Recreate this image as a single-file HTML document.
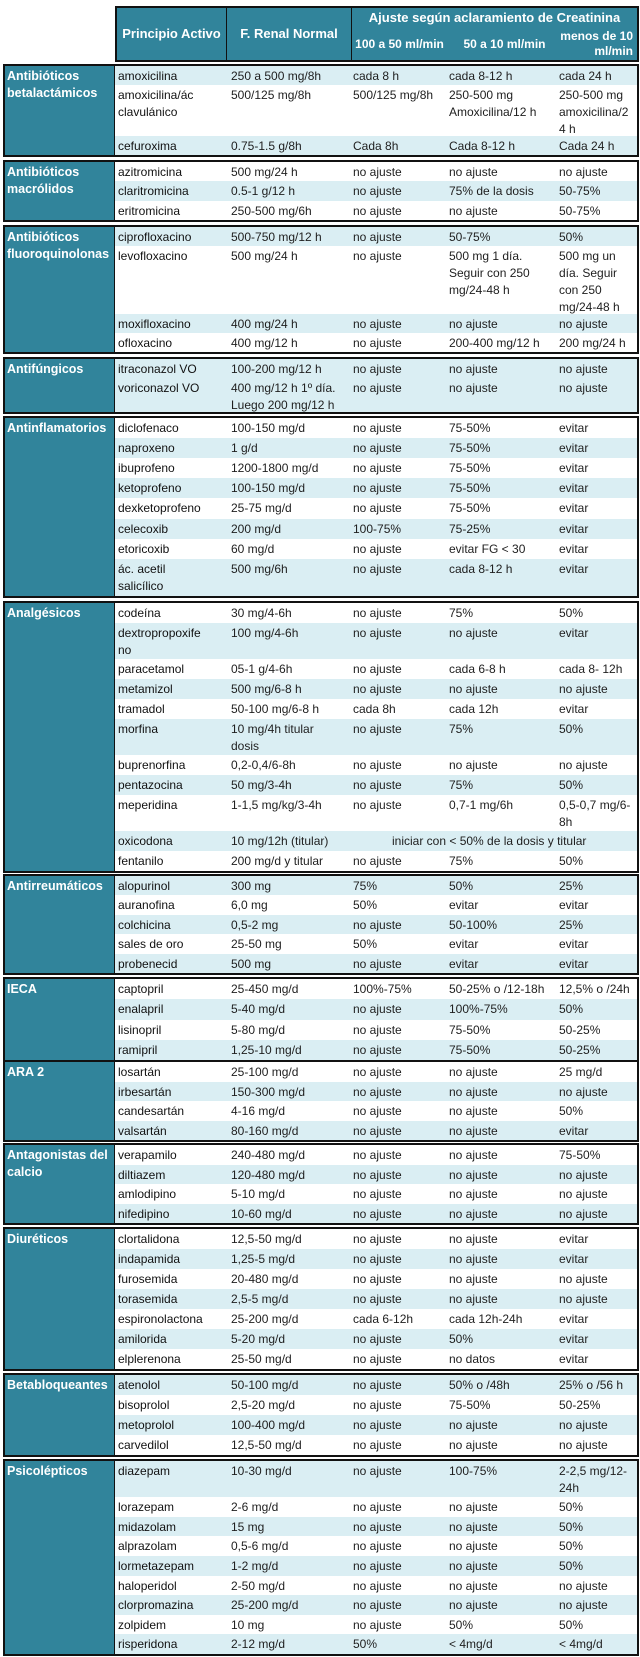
<!DOCTYPE html>
<html><head><meta charset="utf-8">
<style>
*{box-sizing:border-box;margin:0;padding:0}
body{width:640px;height:1657px;background:#fff;position:relative;font-family:"Liberation Sans",sans-serif;overflow:hidden}
.hdr{position:absolute;left:115px;top:6px;width:524px;height:56px;background:#31849b;border:2px solid #111;color:#fff;font-weight:bold}
.hdr .vl{position:absolute;top:0;bottom:0;width:1px;background:#111}
.hdr span{position:absolute;white-space:nowrap;text-align:center}
.g{position:absolute;left:3px;width:636px;border:2px solid #111;background:#fff}
.cat{position:absolute;left:0;top:0;bottom:0;width:110px;background:#31849b;border-right:1px solid #111;color:#fff;font-weight:bold;font-size:12.5px;line-height:17px;padding:2px 0 0 2px;white-space:nowrap}
.rows{position:absolute;left:110px;right:0;top:0;bottom:0;display:flex;flex-direction:column}
.r{position:relative;font-size:12px;line-height:17px;color:#1e1e1e}
.L{background:#daeef3}
.r span{position:absolute;top:2px;white-space:nowrap}
.a{left:3px;color:#111}.b{left:116px}.c{left:238px}.d{left:334px}.e{left:444px}
</style></head><body>
<div class="hdr">
<div class="vl" style="left:109px"></div><div class="vl" style="left:234px"></div>
<span style="left:0;width:109px;top:18px;font-size:13px">Principio Activo</span>
<span style="left:110px;width:124px;top:18px;font-size:13px">F. Renal Normal</span>
<span style="left:235px;width:285px;top:2px;font-size:13px">Ajuste según aclaramiento de Creatinina</span>
<span style="left:235px;width:95px;top:29px;font-size:12px">100 a 50 ml/min</span>
<span style="left:340px;width:95px;top:29px;font-size:12px">50 a 10 ml/min</span>
<span style="left:436px;width:80px;top:21px;font-size:12px;text-align:right;line-height:15px">menos de 10<br>ml/min</span>
</div>

<div class="g" style="top:64px;height:93px"><div class="cat">Antibióticos<br>betalactámicos</div><div class="rows">
<div class="r L" style="flex:20"><span class="a">amoxicilina</span><span class="b">250 a 500 mg/8h</span><span class="c">cada 8 h</span><span class="d">cada 8-12 h</span><span class="e">cada 24 h</span></div>
<div class="r" style="flex:54"><span class="a">amoxicilina/ác<br>clavulánico</span><span class="b">500/125 mg/8h</span><span class="c">500/125 mg/8h</span><span class="d">250-500 mg<br>Amoxicilina/12 h</span><span class="e">250-500 mg<br>amoxicilina/2<br>4 h</span></div>
<div class="r L" style="flex:20"><span class="a">cefuroxima</span><span class="b">0.75-1.5 g/8h</span><span class="c">Cada 8h</span><span class="d">Cada 8-12 h</span><span class="e">Cada 24 h</span></div>
</div></div>

<div class="g" style="top:160px;height:62px"><div class="cat">Antibióticos<br>macrólidos</div><div class="rows">
<div class="r" style="flex:20"><span class="a">azitromicina</span><span class="b">500 mg/24 h</span><span class="c">no ajuste</span><span class="d">no ajuste</span><span class="e">no ajuste</span></div>
<div class="r L" style="flex:20"><span class="a">claritromicina</span><span class="b">0.5-1 g/12 h</span><span class="c">no ajuste</span><span class="d">75% de la dosis</span><span class="e">50-75%</span></div>
<div class="r" style="flex:20"><span class="a">eritromicina</span><span class="b">250-500 mg/6h</span><span class="c">no ajuste</span><span class="d">no ajuste</span><span class="e">50-75%</span></div>
</div></div>

<div class="g" style="top:225px;height:129px"><div class="cat">Antibióticos<br>fluoroquinolonas</div><div class="rows">
<div class="r L" style="flex:20"><span class="a">ciprofloxacino</span><span class="b">500-750 mg/12 h</span><span class="c">no ajuste</span><span class="d">50-75%</span><span class="e">50%</span></div>
<div class="r" style="flex:71"><span class="a">levofloxacino</span><span class="b">500 mg/24 h</span><span class="c">no ajuste</span><span class="d">500 mg 1 día.<br>Seguir con 250<br>mg/24-48 h</span><span class="e">500 mg un<br>día. Seguir<br>con 250<br>mg/24-48 h</span></div>
<div class="r L" style="flex:20"><span class="a">moxifloxacino</span><span class="b">400 mg/24 h</span><span class="c">no ajuste</span><span class="d">no ajuste</span><span class="e">no ajuste</span></div>
<div class="r" style="flex:20"><span class="a">ofloxacino</span><span class="b">400 mg/12 h</span><span class="c">no ajuste</span><span class="d">200-400 mg/12 h</span><span class="e">200 mg/24 h</span></div>
</div></div>

<div class="g" style="top:357px;height:57px"><div class="cat">Antifúngicos</div><div class="rows">
<div class="r L" style="flex:20"><span class="a">itraconazol VO</span><span class="b">100-200 mg/12 h</span><span class="c">no ajuste</span><span class="d">no ajuste</span><span class="e">no ajuste</span></div>
<div class="r L" style="flex:37"><span class="a">voriconazol VO</span><span class="b">400 mg/12 h 1º día.<br>Luego 200 mg/12 h</span><span class="c">no ajuste</span><span class="d">no ajuste</span><span class="e">no ajuste</span></div>
</div></div>

<div class="g" style="top:416px;height:182px"><div class="cat">Antinflamatorios</div><div class="rows">
<div class="r" style="flex:20"><span class="a">diclofenaco</span><span class="b">100-150 mg/d</span><span class="c">no ajuste</span><span class="d">75-50%</span><span class="e">evitar</span></div>
<div class="r L" style="flex:20"><span class="a">naproxeno</span><span class="b">1 g/d</span><span class="c">no ajuste</span><span class="d">75-50%</span><span class="e">evitar</span></div>
<div class="r" style="flex:20"><span class="a">ibuprofeno</span><span class="b">1200-1800 mg/d</span><span class="c">no ajuste</span><span class="d">75-50%</span><span class="e">evitar</span></div>
<div class="r L" style="flex:20"><span class="a">ketoprofeno</span><span class="b">100-150 mg/d</span><span class="c">no ajuste</span><span class="d">75-50%</span><span class="e">evitar</span></div>
<div class="r" style="flex:20"><span class="a">dexketoprofeno</span><span class="b">25-75 mg/d</span><span class="c">no ajuste</span><span class="d">75-50%</span><span class="e">evitar</span></div>
<div class="r L" style="flex:20"><span class="a">celecoxib</span><span class="b">200 mg/d</span><span class="c">100-75%</span><span class="d">75-25%</span><span class="e">evitar</span></div>
<div class="r" style="flex:20"><span class="a">etoricoxib</span><span class="b">60 mg/d</span><span class="c">no ajuste</span><span class="d">evitar FG &lt; 30</span><span class="e">evitar</span></div>
<div class="r L" style="flex:37"><span class="a">ác. acetil<br>salicílico</span><span class="b">500 mg/6h</span><span class="c">no ajuste</span><span class="d">cada 8-12 h</span><span class="e">evitar</span></div>
</div></div>

<div class="g" style="top:601px;height:272px"><div class="cat">Analgésicos</div><div class="rows">
<div class="r" style="flex:20"><span class="a">codeína</span><span class="b">30 mg/4-6h</span><span class="c">no ajuste</span><span class="d">75%</span><span class="e">50%</span></div>
<div class="r L" style="flex:37"><span class="a">dextropropoxife<br>no</span><span class="b">100 mg/4-6h</span><span class="c">no ajuste</span><span class="d">no ajuste</span><span class="e">evitar</span></div>
<div class="r" style="flex:20"><span class="a">paracetamol</span><span class="b">05-1 g/4-6h</span><span class="c">no ajuste</span><span class="d">cada 6-8 h</span><span class="e">cada 8- 12h</span></div>
<div class="r L" style="flex:20"><span class="a">metamizol</span><span class="b">500 mg/6-8 h</span><span class="c">no ajuste</span><span class="d">no ajuste</span><span class="e">no ajuste</span></div>
<div class="r" style="flex:20"><span class="a">tramadol</span><span class="b">50-100 mg/6-8 h</span><span class="c">cada 8h</span><span class="d">cada 12h</span><span class="e">evitar</span></div>
<div class="r L" style="flex:37"><span class="a">morfina</span><span class="b">10 mg/4h titular<br>dosis</span><span class="c">no ajuste</span><span class="d">75%</span><span class="e">50%</span></div>
<div class="r" style="flex:20"><span class="a">buprenorfina</span><span class="b">0,2-0,4/6-8h</span><span class="c">no ajuste</span><span class="d">no ajuste</span><span class="e">no ajuste</span></div>
<div class="r L" style="flex:20"><span class="a">pentazocina</span><span class="b">50 mg/3-4h</span><span class="c">no ajuste</span><span class="d">75%</span><span class="e">50%</span></div>
<div class="r" style="flex:37"><span class="a">meperidina</span><span class="b">1-1,5 mg/kg/3-4h</span><span class="c">no ajuste</span><span class="d">0,7-1 mg/6h</span><span class="e">0,5-0,7 mg/6-<br>8h</span></div>
<div class="r L" style="flex:20"><span class="a">oxicodona</span><span class="b">10 mg/12h (titular)</span><span style="left:277px">iniciar con &lt; 50% de la dosis y titular</span></div>
<div class="r" style="flex:20"><span class="a">fentanilo</span><span class="b">200 mg/d y titular</span><span class="c">no ajuste</span><span class="d">75%</span><span class="e">50%</span></div>
</div></div>

<div class="g" style="top:874px;height:101px"><div class="cat">Antirreumáticos</div><div class="rows">
<div class="r L" style="flex:20"><span class="a">alopurinol</span><span class="b">300 mg</span><span class="c">75%</span><span class="d">50%</span><span class="e">25%</span></div>
<div class="r" style="flex:20"><span class="a">auranofina</span><span class="b">6,0 mg</span><span class="c">50%</span><span class="d">evitar</span><span class="e">evitar</span></div>
<div class="r L" style="flex:20"><span class="a">colchicina</span><span class="b">0,5-2 mg</span><span class="c">no ajuste</span><span class="d">50-100%</span><span class="e">25%</span></div>
<div class="r" style="flex:20"><span class="a">sales de oro</span><span class="b">25-50 mg</span><span class="c">50%</span><span class="d">evitar</span><span class="e">evitar</span></div>
<div class="r L" style="flex:20"><span class="a">probenecid</span><span class="b">500 mg</span><span class="c">no ajuste</span><span class="d">evitar</span><span class="e">evitar</span></div>
</div></div>

<div class="g" style="top:977px;height:85px"><div class="cat">IECA</div><div class="rows">
<div class="r" style="flex:20"><span class="a">captopril</span><span class="b">25-450 mg/d</span><span class="c">100%-75%</span><span class="d">50-25% o /12-18h</span><span class="e">12,5% o /24h</span></div>
<div class="r L" style="flex:20"><span class="a">enalapril</span><span class="b">5-40 mg/d</span><span class="c">no ajuste</span><span class="d">100%-75%</span><span class="e">50%</span></div>
<div class="r" style="flex:20"><span class="a">lisinopril</span><span class="b">5-80 mg/d</span><span class="c">no ajuste</span><span class="d">75-50%</span><span class="e">50-25%</span></div>
<div class="r L" style="flex:20"><span class="a">ramipril</span><span class="b">1,25-10 mg/d</span><span class="c">no ajuste</span><span class="d">75-50%</span><span class="e">50-25%</span></div>
</div></div>

<div class="g" style="top:1060px;height:82px"><div class="cat">ARA 2</div><div class="rows">
<div class="r" style="flex:20"><span class="a">losartán</span><span class="b">25-100 mg/d</span><span class="c">no ajuste</span><span class="d">no ajuste</span><span class="e">25 mg/d</span></div>
<div class="r L" style="flex:20"><span class="a">irbesartán</span><span class="b">150-300 mg/d</span><span class="c">no ajuste</span><span class="d">no ajuste</span><span class="e">no ajuste</span></div>
<div class="r" style="flex:20"><span class="a">candesartán</span><span class="b">4-16 mg/d</span><span class="c">no ajuste</span><span class="d">no ajuste</span><span class="e">50%</span></div>
<div class="r L" style="flex:20"><span class="a">valsartán</span><span class="b">80-160 mg/d</span><span class="c">no ajuste</span><span class="d">no ajuste</span><span class="e">evitar</span></div>
</div></div>

<div class="g" style="top:1143px;height:82px"><div class="cat">Antagonistas del<br>calcio</div><div class="rows">
<div class="r" style="flex:20"><span class="a">verapamilo</span><span class="b">240-480 mg/d</span><span class="c">no ajuste</span><span class="d">no ajuste</span><span class="e">75-50%</span></div>
<div class="r L" style="flex:20"><span class="a">diltiazem</span><span class="b">120-480 mg/d</span><span class="c">no ajuste</span><span class="d">no ajuste</span><span class="e">no ajuste</span></div>
<div class="r" style="flex:20"><span class="a">amlodipino</span><span class="b">5-10 mg/d</span><span class="c">no ajuste</span><span class="d">no ajuste</span><span class="e">no ajuste</span></div>
<div class="r L" style="flex:20"><span class="a">nifedipino</span><span class="b">10-60 mg/d</span><span class="c">no ajuste</span><span class="d">no ajuste</span><span class="e">no ajuste</span></div>
</div></div>

<div class="g" style="top:1227px;height:144px"><div class="cat">Diuréticos</div><div class="rows">
<div class="r" style="flex:20"><span class="a">clortalidona</span><span class="b">12,5-50 mg/d</span><span class="c">no ajuste</span><span class="d">no ajuste</span><span class="e">evitar</span></div>
<div class="r L" style="flex:20"><span class="a">indapamida</span><span class="b">1,25-5 mg/d</span><span class="c">no ajuste</span><span class="d">no ajuste</span><span class="e">evitar</span></div>
<div class="r" style="flex:20"><span class="a">furosemida</span><span class="b">20-480 mg/d</span><span class="c">no ajuste</span><span class="d">no ajuste</span><span class="e">no ajuste</span></div>
<div class="r L" style="flex:20"><span class="a">torasemida</span><span class="b">2,5-5 mg/d</span><span class="c">no ajuste</span><span class="d">no ajuste</span><span class="e">no ajuste</span></div>
<div class="r" style="flex:20"><span class="a">espironolactona</span><span class="b">25-200 mg/d</span><span class="c">cada 6-12h</span><span class="d">cada 12h-24h</span><span class="e">evitar</span></div>
<div class="r L" style="flex:20"><span class="a">amilorida</span><span class="b">5-20 mg/d</span><span class="c">no ajuste</span><span class="d">50%</span><span class="e">evitar</span></div>
<div class="r" style="flex:20"><span class="a">elplerenona</span><span class="b">25-50 mg/d</span><span class="c">no ajuste</span><span class="d">no datos</span><span class="e">evitar</span></div>
</div></div>

<div class="g" style="top:1373px;height:84px"><div class="cat">Betabloqueantes</div><div class="rows">
<div class="r L" style="flex:20"><span class="a">atenolol</span><span class="b">50-100 mg/d</span><span class="c">no ajuste</span><span class="d">50% o /48h</span><span class="e">25% o /56 h</span></div>
<div class="r" style="flex:20"><span class="a">bisoprolol</span><span class="b">2,5-20 mg/d</span><span class="c">no ajuste</span><span class="d">75-50%</span><span class="e">50-25%</span></div>
<div class="r L" style="flex:20"><span class="a">metoprolol</span><span class="b">100-400 mg/d</span><span class="c">no ajuste</span><span class="d">no ajuste</span><span class="e">no ajuste</span></div>
<div class="r" style="flex:20"><span class="a">carvedilol</span><span class="b">12,5-50 mg/d</span><span class="c">no ajuste</span><span class="d">no ajuste</span><span class="e">no ajuste</span></div>
</div></div>

<div class="g" style="top:1459px;height:197px"><div class="cat">Psicolépticos</div><div class="rows">
<div class="r L" style="flex:37"><span class="a">diazepam</span><span class="b">10-30 mg/d</span><span class="c">no ajuste</span><span class="d">100-75%</span><span class="e">2-2,5 mg/12-<br>24h</span></div>
<div class="r" style="flex:20"><span class="a">lorazepam</span><span class="b">2-6 mg/d</span><span class="c">no ajuste</span><span class="d">no ajuste</span><span class="e">50%</span></div>
<div class="r L" style="flex:20"><span class="a">midazolam</span><span class="b">15 mg</span><span class="c">no ajuste</span><span class="d">no ajuste</span><span class="e">50%</span></div>
<div class="r" style="flex:20"><span class="a">alprazolam</span><span class="b">0,5-6 mg/d</span><span class="c">no ajuste</span><span class="d">no ajuste</span><span class="e">50%</span></div>
<div class="r L" style="flex:20"><span class="a">lormetazepam</span><span class="b">1-2 mg/d</span><span class="c">no ajuste</span><span class="d">no ajuste</span><span class="e">50%</span></div>
<div class="r" style="flex:20"><span class="a">haloperidol</span><span class="b">2-50 mg/d</span><span class="c">no ajuste</span><span class="d">no ajuste</span><span class="e">no ajuste</span></div>
<div class="r L" style="flex:20"><span class="a">clorpromazina</span><span class="b">25-200 mg/d</span><span class="c">no ajuste</span><span class="d">no ajuste</span><span class="e">no ajuste</span></div>
<div class="r" style="flex:20"><span class="a">zolpidem</span><span class="b">10 mg</span><span class="c">no ajuste</span><span class="d">50%</span><span class="e">50%</span></div>
<div class="r L" style="flex:20"><span class="a">risperidona</span><span class="b">2-12 mg/d</span><span class="c">50%</span><span class="d">&lt; 4mg/d</span><span class="e">&lt; 4mg/d</span></div>
</div></div>
</body></html>
